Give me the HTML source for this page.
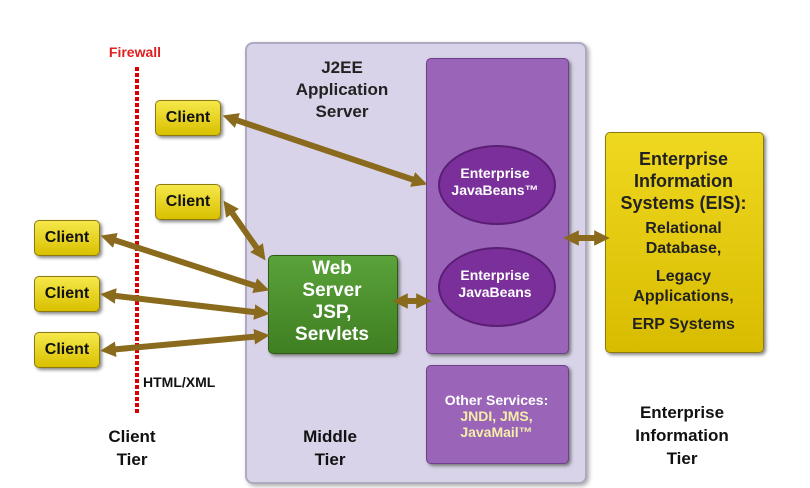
<!DOCTYPE html>
<html><head><style>
body{margin:0;width:810px;height:488px;background:#fff;position:relative;overflow:hidden;font-family:"Liberation Sans",sans-serif;font-weight:bold}
.a{position:absolute}
.t{position:absolute;text-align:center;line-height:1.1}
.cl{position:absolute;width:64px;height:34px;background:linear-gradient(#f6e84a,#d9c000);border:1px solid #8a7a10;border-radius:5px;box-shadow:2px 2px 3px #888;font-size:16px;line-height:34px;text-align:center;color:#111}
</style></head><body>
<div class="a" style="left:245px;top:42px;width:338px;height:438px;background:#d8d3e8;border:2px solid #b0aac0;border-radius:8px;box-shadow:2px 2px 4px #aaa"></div>
<div class="t" style="left:272px;top:57px;width:140px;font-size:17px;color:#222;line-height:22px">J2EE<br>Application<br>Server</div>
<div class="a" style="left:426px;top:58px;width:141px;height:294px;background:#9a64b8;border:1px solid #6e3f8a;border-radius:5px;box-shadow:2px 2px 3px #777"></div>
<div class="a" style="left:426px;top:365px;width:141px;height:97px;background:#9a64b8;border:1px solid #6e3f8a;border-radius:5px;box-shadow:2px 2px 3px #777"></div>
<div class="t" style="left:426px;top:392px;width:141px;font-size:14px;color:#fff;line-height:16px">Other Services:<br><span style="color:#f4eeaa">JNDI, JMS,<br>JavaMail™</span></div>
<div class="a" style="left:438px;top:145px;width:114px;height:76px;border-radius:50%;background:#7a2f9a;border:2px solid #5a1f74"></div>
<div class="t" style="left:438px;top:165px;width:114px;font-size:14px;color:#fff;line-height:17px">Enterprise<br>JavaBeans™</div>
<div class="a" style="left:438px;top:247px;width:114px;height:76px;border-radius:50%;background:#7a2f9a;border:2px solid #5a1f74"></div>
<div class="t" style="left:438px;top:267px;width:114px;font-size:14px;color:#fff;line-height:17px">Enterprise<br>JavaBeans</div>
<div class="a" style="left:268px;top:255px;width:128px;height:97px;background:linear-gradient(#5aa23a,#3f7f22);border:1px solid #2e5c16;border-radius:5px;box-shadow:2px 2px 3px #777"></div>
<div class="t" style="left:268px;top:258px;width:128px;font-size:19px;color:#fff;line-height:22px">Web<br>Server<br>JSP,<br>Servlets</div>
<div class="a" style="left:605px;top:132px;width:157px;height:219px;background:linear-gradient(#efd820,#d8bc00);border:1px solid #8a7a10;border-radius:5px;box-shadow:2px 2px 3px #888"></div>
<div class="t" style="left:598px;top:148px;width:171px;font-size:18px;color:#222;line-height:22px">Enterprise<br>Information<br>Systems (EIS):</div>
<div class="t" style="left:600px;top:219px;width:167px;font-size:16px;color:#222;line-height:20px">Relational<br>Database,</div>
<div class="t" style="left:600px;top:267px;width:167px;font-size:16px;color:#222;line-height:20px">Legacy<br>Applications,</div>
<div class="t" style="left:600px;top:316px;width:167px;font-size:16px;color:#222">ERP Systems</div>
<div class="cl" style="left:155px;top:100px">Client</div>
<div class="cl" style="left:155px;top:184px">Client</div>
<div class="cl" style="left:34px;top:220px">Client</div>
<div class="cl" style="left:34px;top:276px">Client</div>
<div class="cl" style="left:34px;top:332px">Client</div>
<svg class="a" style="left:0;top:0" width="810" height="488">
<defs><marker id="m" markerWidth="2.6" markerHeight="2.6" refX="1.3" refY="1.3" orient="auto-start-reverse" markerUnits="strokeWidth"><path d="M0,0 L2.6,1.3 L0,2.6 z" fill="#8a6a1c"/></marker></defs>
<line x1="137" y1="67" x2="137" y2="415" stroke="#d00" stroke-width="4" stroke-dasharray="4,2"/>
<g stroke="#8a6a1c" stroke-width="6" marker-start="url(#m)" marker-end="url(#m)">
<line x1="230" y1="118" x2="420" y2="182"/>
<line x1="228" y1="207" x2="261" y2="254"/>
<line x1="108" y1="238" x2="262" y2="288"/>
<line x1="108" y1="295" x2="262" y2="313"/>
<line x1="108" y1="350" x2="262" y2="336"/>
<line x1="400" y1="301" x2="424" y2="301"/>
<line x1="571" y1="238" x2="602" y2="238"/>
</g>
</svg>
<div class="t" style="left:85px;top:45px;width:100px;font-size:14px;color:#e02020">Firewall</div>
<div class="t" style="left:143px;top:375px;font-size:14px;color:#111">HTML/XML</div>
<div class="t" style="left:82px;top:425px;width:100px;font-size:17px;color:#111;line-height:23px">Client<br>Tier</div>
<div class="t" style="left:280px;top:425px;width:100px;font-size:17px;color:#111;line-height:23px">Middle<br>Tier</div>
<div class="t" style="left:602px;top:401px;width:160px;font-size:17px;color:#111;line-height:23px">Enterprise<br>Information<br>Tier</div>
</body></html>
